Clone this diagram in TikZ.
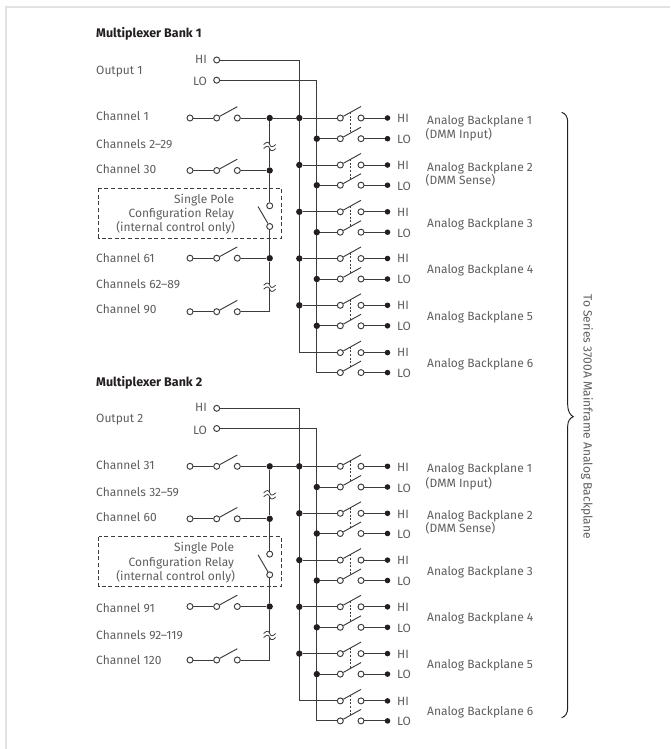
\documentclass[tikz,border=0pt]{standalone}
\usepackage{fontspec}
\usetikzlibrary{calc}
\setmainfont{Fira Sans}
\definecolor{wirecol}{HTML}{3C3C3C}
\definecolor{textcol}{HTML}{5E5E5E}
\definecolor{inkcol}{HTML}{231F20}
\definecolor{framecol}{HTML}{E2E2E2}
\tikzset{
  wire/.style={draw=wirecol,line width=0.95pt},
  tie/.style={draw=wirecol,line width=0.7pt,dash pattern=on 2pt off 1.6pt},
  term/.style={circle,draw=wirecol,line width=0.95pt,fill=white,inner sep=0pt,minimum size=6pt},
  jdot/.style={circle,fill=inkcol,inner sep=0pt,minimum size=6.4pt},
  txt/.style={font=\fontsize{12pt}{14pt}\selectfont,text=textcol,inner sep=0pt,text height=8.6pt,text depth=0pt},
  ltxt/.style={txt,anchor=west},
  rtxt/.style={txt,anchor=east},
  headtxt/.style={font=\fontsize{12.5pt}{14pt}\selectfont\bfseries,text=inkcol,inner sep=0pt,anchor=west,text height=8.6pt,text depth=0pt},
  relaybox/.style={draw=wirecol,line width=0.8pt,dash pattern=on 4pt off 2.6pt},
}
% an input channel switch
\newcommand{\chansw}[2]{%
  \node[term] (#1A) at (190,#2) {};
  \node[term] (#1B) at (216.7,#2) {};
  \node[term] (#1C) at (237.3,#2) {};
  \coordinate (#1E) at (237.3,#2-11.3);
  \draw[wire] (#1A) -- (#1B);
  \draw[wire] (#1B) -- (#1E);
}
% an output switch with its terminal
\newcommand{\outsw}[2]{%
  \node[term] (#1in) at (340.3,#2) {};
  \node[term] (#1out) at (361,#2) {};
  \node[jdot,minimum size=5.6pt] (#1end) at (387.5,#2) {};
  \coordinate (#1E) at (361,#2-11.5);
  \coordinate (#1M) at (350.7,#2-5.8);
  \draw[wire] (#1in) -- (#1E);
  \draw[wire] (#1out) -- (#1end);
}
\newcommand{\brk}[1]{%
  \fill[white] ($(#1)+(-6.5,-2)$) rectangle ($(#1)+(6.5,2)$);
  \draw[wire,line width=0.8pt] ($(#1)+(-6,-2)$) .. controls ($(#1)+(-3,-5)$) and ($(#1)+(-1,-5)$) .. ($(#1)+(0,-2)$) .. controls ($(#1)+(1,1)$) and ($(#1)+(3,1)$) .. ($(#1)+(6,-2)$);
  \draw[wire,line width=0.8pt] ($(#1)+(-6,2)$) .. controls ($(#1)+(-3,-1)$) and ($(#1)+(-1,-1)$) .. ($(#1)+(0,2)$) .. controls ($(#1)+(1,5)$) and ($(#1)+(3,5)$) .. ($(#1)+(6,2)$);
}
\newcommand{\bank}[2]{%
\begin{scope}[yshift=-#2pt]
  \node[term] (#1outhi) at (216.7,60) {};
  \node[term] (#1outlo) at (216.7,80.2) {};
  \coordinate (#1hicorner) at (299.3,352.6);
  \coordinate (#1locorner) at (316.8,372.6);
  \outsw{#1hsa}{118}   \outsw{#1lsa}{138.7}
  \outsw{#1hsb}{165}   \outsw{#1lsb}{185.2}
  \outsw{#1hsc}{211.8} \outsw{#1lsc}{232.2}
  \outsw{#1hsd}{258.5} \outsw{#1lsd}{279}
  \outsw{#1hse}{305.3} \outsw{#1lse}{325.8}
  \outsw{#1hsf}{352.6} \outsw{#1lsf}{372.6}
  \foreach \k in {a,b,c,d,e,f}{
    \draw[tie] (#1hs\k M) -- (#1ls\k M);
  }
  \draw[wire] (#1outhi) -| (#1hicorner) -- (#1hsfin);
  \draw[wire] (#1outlo) -| (#1locorner) -- (#1lsfin);
  \foreach \k/\yh/\yl in {a/118/138.7,b/165/185.2,c/211.8/232.2,d/258.5/279,e/305.3/325.8}{
    \node[jdot] (#1hb\k) at (299.3,\yh) {};
    \node[jdot] (#1lb\k) at (316.8,\yl) {};
    \draw[wire] (#1hb\k) -- (#1hs\k in);
    \draw[wire] (#1lb\k) -- (#1ls\k in);
  }
  % input side
  \chansw{#1cha}{118}
  \chansw{#1chb}{170.5}
  \chansw{#1chc}{258.2}
  \chansw{#1chd}{311.7}
  \node[jdot] (#1ja) at (269.7,118) {};
  \node[jdot] (#1jb) at (269.7,170.5) {};
  \node[jdot] (#1jc) at (269.7,258.2) {};
  \coordinate (#1jd) at (269.7,311.7);
  \node[term] (#1rt) at (269.7,205.8) {};
  \node[term] (#1rb) at (269.7,226.5) {};
  \coordinate (#1rE) at (258,206.5);
  \coordinate (#1brkA) at (269.7,146.5);
  \coordinate (#1brkB) at (269.7,287.2);
  \draw[wire] (#1chaC) -- (#1ja);
  \draw[wire] (#1ja) -- (#1hba);
  \draw[wire] (#1chbC) -- (#1jb);
  \draw[wire] (#1chcC) -- (#1jc);
  \draw[wire] (#1chdC) -- (#1jd) -- (#1jc);
  \draw[wire] (#1ja) -- (#1jb);
  \draw[wire] (#1jb) -- (#1rt);
  \draw[wire] (#1rb) -- (#1jc);
  \draw[wire] (#1rb) -- (#1rE);
  \brk{#1brkA}
  \brk{#1brkB}
  \coordinate (#1bxa) at (98.5,188.2);
  \coordinate (#1bxb) at (281.3,238);
  \draw[relaybox] (#1bxa) rectangle (#1bxb);
  \node[rtxt] (#1rl1) at (234.3,199) {Single Pole};
  \node[rtxt] (#1rl2) at (234.3,213.5) {Configuration Relay};
  \node[rtxt] (#1rl3) at (235.3,227.6) {(internal control only)};
  \node[rtxt] (#1hil) at (207,59) {HI};
  \node[rtxt] (#1lol) at (207,81.5) {LO};
  \foreach \k/\yh/\yl in {a/118.5/139.5,b/165.5/185.8,c/212/232.8,d/258.5/279.5,e/305.5/326.3,f/352.5/373}{
    \node[ltxt] (#1thi\k) at (397,\yh) {HI};
    \node[ltxt] (#1tlo\k) at (397,\yl) {LO};
  }
\end{scope}
}
\begin{document}
\begin{tikzpicture}[x=1pt,y=-1pt]
\useasboundingbox (0,0) rectangle (670,749);
\coordinate (fa) at (670,7.2);
\coordinate (fb) at (6.2,7.2);
\coordinate (fc) at (6.2,749);
\draw[framecol,line width=1.5pt] (fa) -- (fb) -- (fc);
\bank{p}{0}
\bank{q}{348.3}
\node[headtxt] (h1) at (96,33) {Multiplexer Bank 1};
\node[headtxt] (h2) at (96,382.3) {Multiplexer Bank 2};
\node[ltxt] (o1) at (96,70) {Output 1};
\node[ltxt] (o2) at (96,418) {Output 2};
\node[ltxt] (c1) at (96,116.7) {Channel 1};
\node[ltxt] (c2) at (96,144) {Channels 2–29};
\node[ltxt] (c3) at (96,169.3) {Channel 30};
\node[ltxt] (c4) at (96,257.7) {Channel 61};
\node[ltxt] (c5) at (96,283.7) {Channels 62–89};
\node[ltxt] (c6) at (96,309.3) {Channel 90};
\node[ltxt] (d1) at (96,465) {Channel 31};
\node[ltxt] (d2) at (96,491.7) {Channels 32–59};
\node[ltxt] (d3) at (96,517.3) {Channel 60};
\node[ltxt] (d4) at (96,608) {Channel 91};
\node[ltxt] (d5) at (96,634.7) {Channels 92–119};
\node[ltxt] (d6) at (96,660.3) {Channel 120};
\node[ltxt] (e1) at (427,120) {Analog Backplane 1};
\node[ltxt] (e1b) at (425.5,134.7) {(DMM Input)};
\node[ltxt] (e2) at (427,166.7) {Analog Backplane 2};
\node[ltxt] (e2b) at (425.5,180) {(DMM Sense)};
\node[ltxt] (e3) at (427,222.7) {Analog Backplane 3};
\node[ltxt] (e4) at (427,269.3) {Analog Backplane 4};
\node[ltxt] (e5) at (427,316) {Analog Backplane 5};
\node[ltxt] (e6) at (427,362.7) {Analog Backplane 6};
\node[ltxt] (f1) at (427,468) {Analog Backplane 1};
\node[ltxt] (f1b) at (425.5,482.7) {(DMM Input)};
\node[ltxt] (f2) at (427,514.7) {Analog Backplane 2};
\node[ltxt] (f2b) at (425.5,528.3) {(DMM Sense)};
\node[ltxt] (f3) at (427,571) {Analog Backplane 3};
\node[ltxt] (f4) at (427,616.7) {Analog Backplane 4};
\node[ltxt] (f5) at (427,663.7) {Analog Backplane 5};
\node[ltxt] (f6) at (427,710.7) {Analog Backplane 6};
\coordinate (ba) at (561.7,112.3);
\coordinate (bb) at (567.7,122);
\coordinate (bc) at (567.7,405);
\coordinate (bt) at (573.3,416.7);
\coordinate (bd) at (567.7,426);
\coordinate (be) at (567.7,708);
\coordinate (bf) at (561.7,717.7);
\draw[wire,draw=inkcol] (ba) .. controls (565.5,113.5) and (567.7,117) .. (bb) -- (bc) .. controls (567.7,411) and (570,415) .. (bt) .. controls (570,418) and (567.7,421) .. (bd) -- (be) .. controls (567.7,713) and (565.5,716.5) .. (bf);
\node[txt,rotate=-90] (v) at (588,416.7) {To Series 3700A Mainframe Analog Backplane};
\end{tikzpicture}
\end{document}
